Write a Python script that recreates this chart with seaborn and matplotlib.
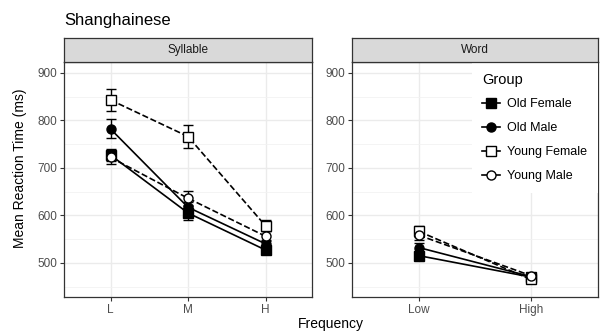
import matplotlib
matplotlib.use("Agg")
import numpy as np
import pandas as pd
import seaborn as sns
from matplotlib import pyplot as plt
from matplotlib.lines import Line2D

# data
groups = ["Old Female", "Old Male", "Young Female", "Young Male"]
syllable_levels = ["L", "M", "H"]
word_levels = ["Low", "High"]

syllable_mean = {
    "Old Female": [727, 605, 527],
    "Old Male": [782, 617, 540],
    "Young Female": [843, 766, 578],
    "Young Male": [722, 636, 556],
}
syllable_err = {
    "Old Female": [12, 15, 8],
    "Old Male": [20, 12, 8],
    "Young Female": [24, 25, 12],
    "Young Male": [13, 15, 10],
}
word_mean = {
    "Old Female": [515, 470],
    "Old Male": [532, 471],
    "Young Female": [566, 465],
    "Young Male": [558, 473],
}
word_err = {
    "Old Female": [8, 5],
    "Old Male": [10, 5],
    "Young Female": [12, 8],
    "Young Male": [10, 6],
}

styles = {
    "Old Female": dict(marker="s", mfc="black", ls="-"),
    "Old Male": dict(marker="o", mfc="black", ls="-"),
    "Young Female": dict(marker="s", mfc="white", ls="--"),
    "Young Male": dict(marker="o", mfc="white", ls="--"),
}


def make_df(levels, means, errs):
    rows = []
    for g in groups:
        for lv, m, e in zip(levels, means[g], errs[g]):
            rows.append({"Frequency": lv, "RT": m, "se": e, "Group": g})
    return pd.DataFrame(rows)


plt.rcParams["font.family"] = ["Liberation Sans", "DejaVu Sans"]

fig = plt.figure(figsize=(6.04, 3.34), dpi=100)
W, H = 604, 334


def px_axes(x0, y0, x1, y1):
    return fig.add_axes([x0 / W, 1 - y1 / H, (x1 - x0) / W, (y1 - y0) / H])


panels = [
    ("Syllable", make_df(syllable_levels, syllable_mean, syllable_err), 64, 312),
    ("Word", make_df(word_levels, word_mean, word_err), 352, 598),
]

for name, df, x0, x1 in panels:
    ax = px_axes(x0, 62, x1, 297)
    strip = px_axes(x0, 38, x1, 62)
    strip.set_facecolor("#D9D9D9")
    strip.set_xticks([])
    strip.set_yticks([])
    for s in strip.spines.values():
        s.set_color("#333333")
        s.set_linewidth(0.9)
    strip.text(0.5, 0.5, name, ha="center", va="center", fontsize=8.5, color="#1A1A1A")

    for g in groups:
        sub = df[df["Group"] == g]
        st = styles[g]
        sns.lineplot(data=sub, x="Frequency", y="RT", ax=ax, color="black",
                     linestyle=st["ls"], lw=1.2, sort=False, zorder=2)
        ax.errorbar(sub["Frequency"], sub["RT"], yerr=sub["se"], fmt="none",
                    ecolor="black", elinewidth=1.0, capsize=3.5, capthick=1.0, zorder=3)
    for g in groups:
        sub = df[df["Group"] == g]
        st = styles[g]
        ax.plot(sub["Frequency"], sub["RT"], linestyle="none", marker=st["marker"],
                markersize=6.5, mfc=st["mfc"], mec="black", mew=1.0, zorder=4)

    n = df["Frequency"].nunique()
    ax.set_xlim(-0.6, n - 0.4)
    ax.set_ylim(428, 923)
    ax.set_yticks([500, 600, 700, 800, 900])
    ax.set_yticks([450, 550, 650, 750, 850], minor=True)
    ax.grid(True, which="major", color="#EBEBEB", lw=1.0, zorder=0)
    ax.grid(True, which="minor", axis="y", color="#F2F2F2", lw=0.6, zorder=0)
    ax.set_axisbelow(True)
    ax.set_facecolor("white")
    for s in ax.spines.values():
        s.set_color("#333333")
        s.set_linewidth(0.9)
    ax.tick_params(axis="both", which="major", labelsize=8.5, labelcolor="#4D4D4D",
                   color="#333333", length=3, width=0.8, pad=2)
    ax.tick_params(axis="both", which="minor", length=0)
    ax.set_xlabel("")
    ax.set_ylabel("")
    last_ax = ax

handles = [
    Line2D([], [], color="black", lw=1.2, marker=styles[g]["marker"],
           mfc=styles[g]["mfc"], mec="black", markersize=6.5)
    for g in groups
]
leg = last_ax.legend(handles, groups, title="Group", loc="upper right",
                     bbox_to_anchor=(1.0, 1.0), fontsize=9, title_fontsize=10.5,
                     frameon=True, framealpha=1, edgecolor="white",
                     handlelength=1.4, handletextpad=0.6, labelspacing=0.95,
                     borderpad=0.85, borderaxespad=0.0)
leg._legend_box.align = "left"
leg.get_frame().set_linewidth(0)
leg.get_frame().set_boxstyle("square", pad=0)

fig.text(64 / W, 1 - 20 / H, "Shanghainese", fontsize=12, ha="left", va="center")
fig.text(331 / W, 1 - 324 / H, "Frequency", fontsize=10, ha="center", va="center")
fig.text(20 / W, 1 - 168 / H, "Mean Reaction Time (ms)", fontsize=10,
         ha="center", va="center", rotation=90)

fig.savefig("out.png", dpi=100)
